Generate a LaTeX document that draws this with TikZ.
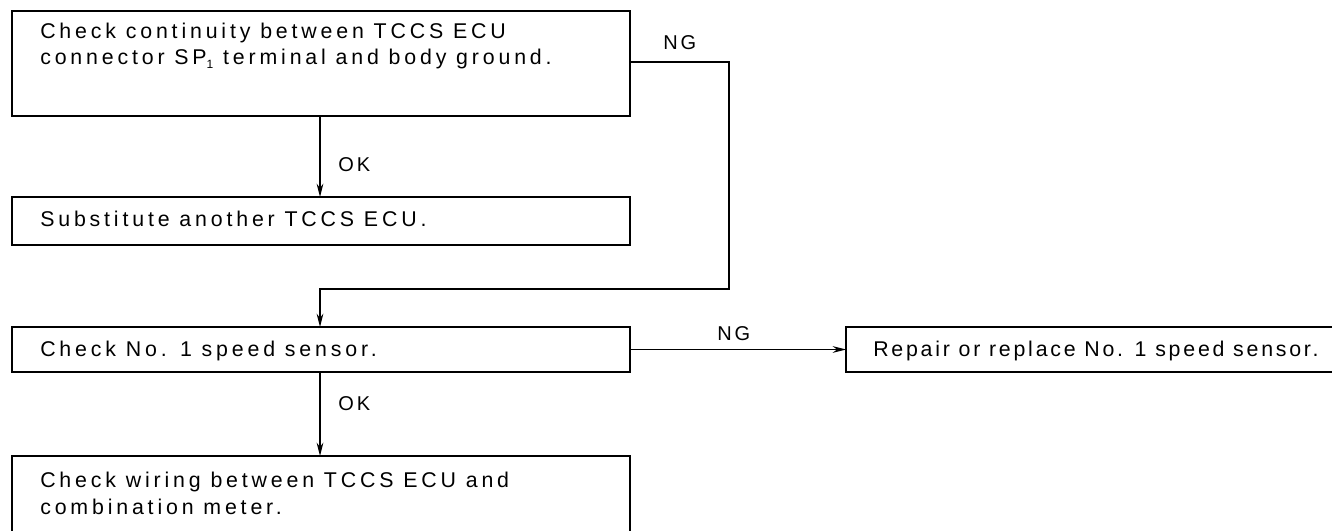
\documentclass[tikz,border=0pt]{standalone}
\usepackage{fontspec}
\setmainfont{Liberation Sans}[LetterSpace=18]
\newfontfamily\rfont{Liberation Sans}[LetterSpace=13]
\newfontfamily\lfont{Liberation Sans}[LetterSpace=15]
\usetikzlibrary{arrows.meta}
\begin{document}
\begin{tikzpicture}[x=0.75pt,y=-0.75pt,
  box/.style={draw,line width=1.4pt,inner sep=0pt,outer sep=0pt,rectangle},
  txt/.style={anchor=base west,inner sep=0pt,font=\fontsize{16}{19}\selectfont},
  rtxt/.style={anchor=base west,inner sep=0pt,font=\rfont\fontsize{16}{19}\selectfont},
  lbl/.style={anchor=base west,inner sep=0pt,font=\lfont\fontsize{15}{18}\selectfont},
  conn/.style={line width=0.9pt},
  arr/.style={conn,-{Stealth[length=10pt,width=5pt]}}]
\useasboundingbox (0,0) rectangle (1332,531);
% boxes
\node[box,minimum width=463.5pt,minimum height=78.75pt] (b1) at (321,63.5) {};
\node[box,minimum width=463.5pt,minimum height=36pt] (b2) at (321,221) {};
\node[box,minimum width=463.5pt,minimum height=33.75pt] (b3) at (321,349.5) {};
\node[box,minimum width=463.5pt,minimum height=81pt] (b4) at (321,510) {};
\node[box,minimum width=415.5pt,minimum height=33.75pt] (rb) at (1123,349.5) {};
% texts
\node[txt] (t1a) at (40,39) {Check continuity between TCCS ECU};
\node[txt] (t1b) at (40,65) {connector SP\raisebox{-0.35ex}{\fontsize{9}{9}\selectfont 1} terminal and body ground.};
\node[txt] (t2) at (40,227) {Substitute another TCCS ECU.};
\node[txt] (t3) at (40,356) {Check No.\ \,1 speed sensor.};
\node[txt] (t4a) at (40,487) {Check wiring between TCCS ECU and};
\node[txt] (t4b) at (40,514) {combination meter.};
\node[rtxt] (t5) at (873,356) {Repair or replace No. 1 speed sensor.};
% labels
\node[lbl] (ok1) at (338,172) {OK};
\node[lbl] (ok2) at (338,410) {OK};
\node[lbl] (ng1) at (663,50) {NG};
\node[lbl] (ng2) at (717,340) {NG};
% connectors
\coordinate (ax) at (320,0);
\coordinate (r1) at (729,62);
\coordinate (r2) at (729,289);
\draw[arr] (ax |- b1.south) -- (ax |- b2.north);
\draw[arr] (b1.east |- r1) -- (r1) -- (r2) -- (ax |- r2) -- (ax |- b3.north);
\draw[arr] (b3.east) -- (rb.west |- b3.east);
\draw[arr] (ax |- b3.south) -- (ax |- b4.north);
\end{tikzpicture}
\end{document}
